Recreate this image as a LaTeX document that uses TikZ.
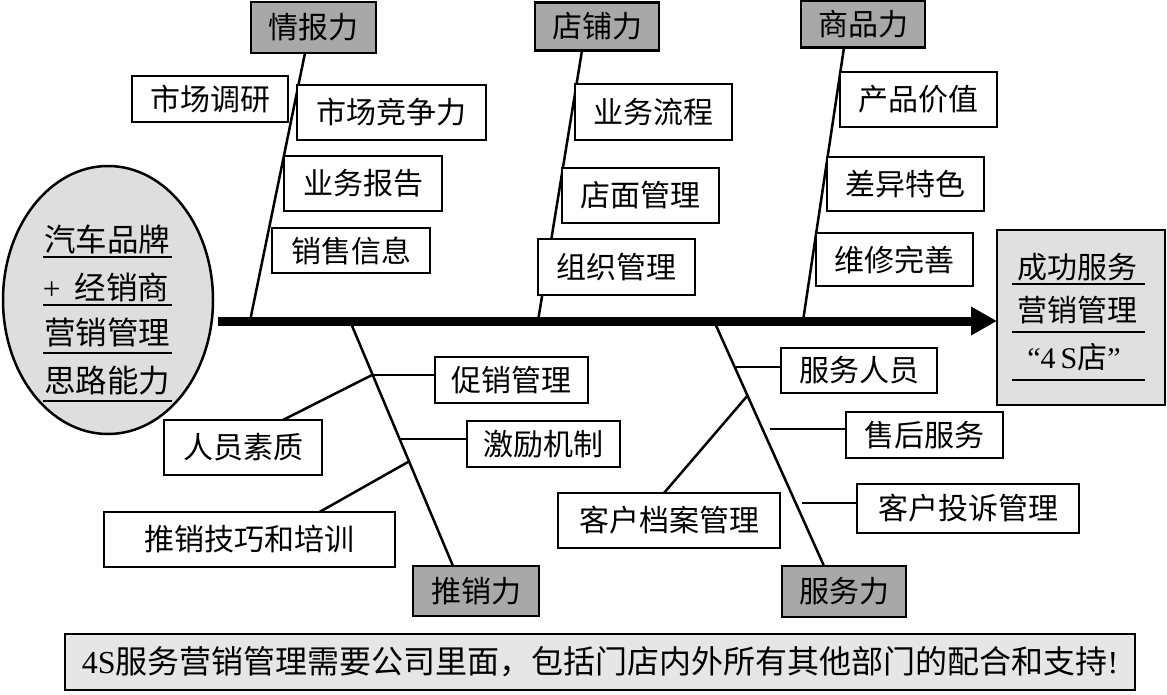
\documentclass[tikz,border=0pt]{standalone}
\usepackage{fontspec}
\setmainfont{Liberation Serif}
\newfontfamily\cjk{Noto Sans CJK SC}
\newfontfamily\lat{Liberation Serif}
\usetikzlibrary{arrows.meta,shapes.geometric}
\definecolor{catgray}{HTML}{A8A8A8}
\definecolor{ellgray}{HTML}{DEDEDE}
\definecolor{rbgray}{HTML}{E0E0E0}
\definecolor{notegray}{HTML}{E6E6E6}
\begin{document}
\begin{tikzpicture}[x=1pt,y=-1pt,
  every node/.style={inner sep=0pt, outer sep=0pt, font=\cjk\fontsize{30}{36}\selectfont},
  catbox/.style={draw, line width=2.5pt, fill=catgray},
  subbox/.style={draw, line width=2.5pt, fill=white},
  bone/.style={line width=2.5pt},
  uline/.style={line width=2pt},
  elltext/.style={font=\cjk\fontsize{31.5}{36}\selectfont},
  spine/.style={line width=9pt, -{Triangle[length=26pt,width=27pt]}}
]
\useasboundingbox (0,0) rectangle (1167,694);

% head and tail
\node[draw, line width=2.5pt, fill=ellgray, ellipse, minimum width=210pt, minimum height=268pt] (ell) at (108,300) {};
\node[draw, line width=2.5pt, fill=rbgray, minimum width=168pt, minimum height=175pt] (rb) at (1081,317.5) {};

% category boxes
\node[catbox, minimum width=125pt, minimum height=51pt] (qb) at (313.5,27.5) {情报力};
\node[catbox, minimum width=124pt, minimum height=48pt] (dp) at (597,26.5) {店铺力};
\node[catbox, minimum width=124pt, minimum height=47pt] (sp) at (863,24) {商品力};
\node[catbox, minimum width=126pt, minimum height=50pt] (tx) at (476,591) {推销力};
\node[catbox, minimum width=124pt, minimum height=51pt] (fw) at (844,591.5) {服务力};

% spine
\coordinate (s0) at (218,321);
\draw[spine] (s0) -- (s0 -| rb.west);

% bone joints on the spine
\coordinate (j1) at (250,321);
\coordinate (j2) at (538,321);
\coordinate (j3) at (803,321);
\coordinate (j4) at (350,321);
\coordinate (j5) at (714,321);

\draw[bone] ([xshift=-8.5pt]qb.south) -- (j1);
\draw[bone] ([xshift=-15pt]dp.south) -- (j2);
\draw[bone] ([xshift=-19pt]sp.south) -- (j3);
\draw[bone] (j4) -- ([xshift=-23pt]tx.north);
\draw[bone] (j5) -- ([xshift=-20pt]fw.north);

% branch points on lower bones
\coordinate (t1) at (372,375);
\coordinate (t2) at (401,439);
\coordinate (t3) at (408,462);
\coordinate (f1) at (735,367);
\coordinate (f2) at (748,395);
\coordinate (f3) at (770,429);
\coordinate (f4) at (802,503);

% sub boxes: 情报力
\node[subbox, minimum width=156pt, minimum height=46pt] (a1) at (210,99) {市场调研};
\node[subbox, minimum width=189pt, minimum height=55pt] (a2) at (391.5,112.5) {市场竞争力};
\node[subbox, minimum width=158pt, minimum height=55pt] (a3) at (363,183.5) {业务报告};
\node[subbox, minimum width=158pt, minimum height=45pt] (a4) at (351,250.5) {销售信息};
% 店铺力
\node[subbox, minimum width=157pt, minimum height=56pt] (b1) at (653.5,112) {业务流程};
\node[subbox, minimum width=157pt, minimum height=55pt] (b2) at (640.5,195.5) {店面管理};
\node[subbox, minimum width=157pt, minimum height=56pt] (b3) at (616.5,267) {组织管理};
% 商品力
\node[subbox, minimum width=157pt, minimum height=55pt] (c1) at (918.5,99.5) {产品价值};
\node[subbox, minimum width=157pt, minimum height=54pt] (c2) at (905.5,184) {差异特色};
\node[subbox, minimum width=157pt, minimum height=53pt] (c3) at (894.5,259.5) {维修完善};
% 推销力
\node[subbox, minimum width=153pt, minimum height=46pt] (d1) at (511.5,380) {促销管理};
\node[subbox, minimum width=153pt, minimum height=46pt] (d2) at (543.5,444) {激励机制};
\node[subbox, minimum width=158pt, minimum height=55pt] (d3) at (243,447.5) {人员素质};
\node[subbox, minimum width=291pt, minimum height=55pt] (d4) at (249.5,539.5) {推销技巧和培训};
% 服务力
\node[subbox, minimum width=156pt, minimum height=45pt] (e1) at (859,370.5) {服务人员};
\node[subbox, minimum width=157pt, minimum height=46pt] (e2) at (924.5,435) {售后服务};
\node[subbox, minimum width=222pt, minimum height=49pt] (e3) at (968,508.5) {客户投诉管理};
\node[subbox, minimum width=222pt, minimum height=55pt] (e4) at (669,520.5) {客户档案管理};

% branches
\draw[bone] (t1) -- (t1 -| d1.west);
\draw[bone] ([xshift=40pt]d3.north) -- (t1);
\draw[bone] (t2) -- (t2 -| d2.west);
\draw[bone] ([xshift=70pt]d4.north) -- (t3);
\draw[bone] (f1) -- (f1 -| e1.west);
\draw[bone] (f3) -- (f3 -| e2.west);
\draw[bone] (f4) -- (f4 -| e3.west);
\draw[bone] ([xshift=-5pt]e4.north) -- (f2);

% ellipse text
\node[elltext] (l1) at (107,239) {汽车品牌};
\node[elltext] (l2) at (106,287) {{\lat +}\hspace{14pt}经销商};
\node[elltext] (l3) at (107,333) {营销管理};
\node[elltext] (l4) at (107,381) {思路能力};
\draw[uline] (43,257) -- (172,257);
\draw[uline] (43,305) -- (172,305);
\draw[uline] (43,353) -- (172,353);
\draw[uline] (43,401) -- (172,401);

% right box text
\node (r1) at (1077,267) {成功服务};
\node (r2) at (1077,310) {营销管理};
\node (r3) at (1074,357) {{\lat “4\,S}店{\lat ”}};
\draw[uline] (1012,284) -- (1145,284);
\draw[uline] (1012,332) -- (1145,332);
\draw[uline] (1012,380) -- (1145,380);

% bottom note
\node[draw, line width=2.5pt, fill=notegray, minimum width=1070pt, minimum height=56pt,
      font=\cjk\fontsize{32}{36}\selectfont] (note) at (600,662)
  {{\lat 4S}服务营销管理需要公司里面，包括门店内外所有其他部门的配合和支持{\lat !}};
\end{tikzpicture}
\end{document}
